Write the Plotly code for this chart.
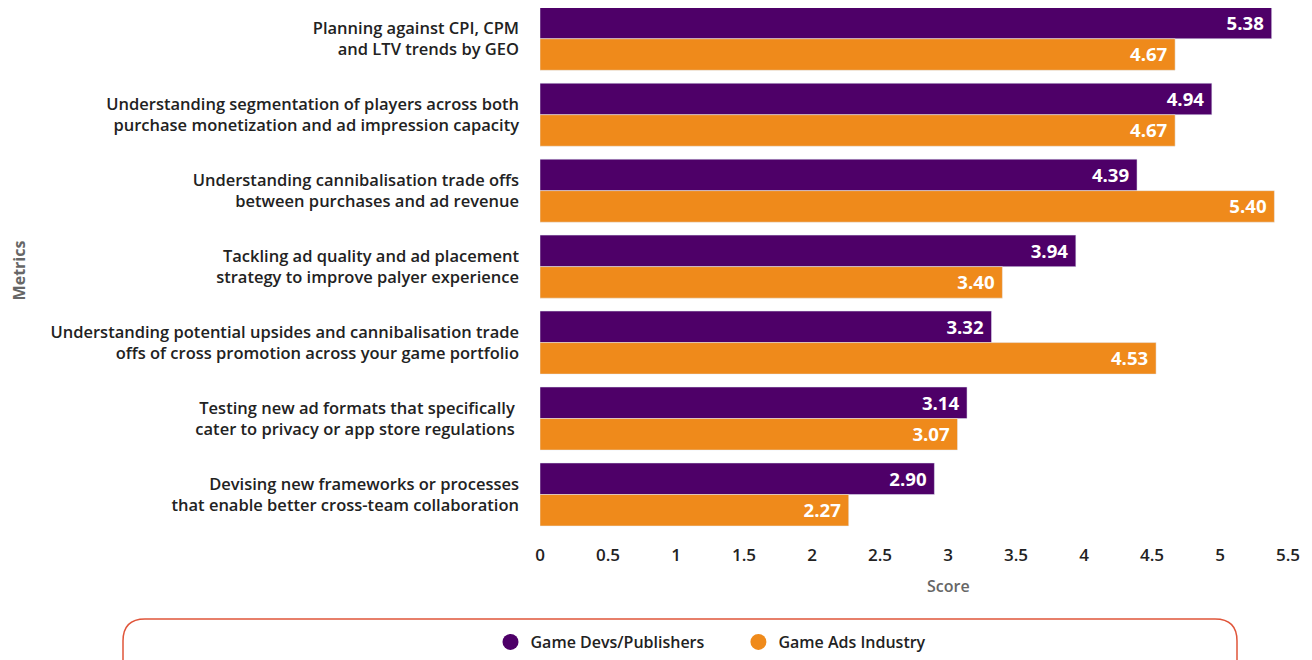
import plotly.graph_objects as go

# data
metrics = [
    "Planning against CPI, CPM<br>and LTV trends by GEO",
    "Understanding segmentation of players across both<br>purchase monetization and ad impression capacity",
    "Understanding cannibalisation trade offs<br>between purchases and ad revenue",
    "Tackling ad quality and ad placement<br>strategy to improve palyer experience",
    "Understanding potential upsides and cannibalisation trade<br>offs of cross promotion across your game portfolio",
    "Testing new ad formats that specifically\u00a0<br>cater to privacy or app store regulations\u00a0",
    "Devising new frameworks or processes<br>that enable better cross-team collaboration",
]
devs_scores = [5.38, 4.94, 4.39, 3.94, 3.32, 3.14, 2.90]
ads_scores = [4.67, 4.67, 5.40, 3.40, 4.53, 3.07, 2.27]
x_ticks = [0, 0.5, 1, 1.5, 2, 2.5, 3, 3.5, 4, 4.5, 5, 5.5]

PURPLE = "#4E0068"
ORANGE = "#EF8A1B"
FONT = "Open Sans"

# the page body adds an 8px margin, so the figure is a bit smaller
OFF = 8
W, H = 1312 - OFF, 660 - OFF
L, R, T, B = 532, 24, 0, 127

fig = go.Figure()
for name, vals, col in [("Game Devs/Publishers", devs_scores, PURPLE),
                        ("Game Ads Industry", ads_scores, ORANGE)]:
    fig.add_trace(go.Bar(
        y=metrics, x=vals, orientation="h", name=name,
        marker_color=col, text=[f"{v:.2f}\u00a0" for v in vals],
        textposition="inside", insidetextanchor="end",
        textfont=dict(family=FONT, size=19, color="white", weight=700),
        showlegend=False,
    ))

# legend entries drawn as circles
for name, col in [("Game Devs/Publishers" + "\u00a0" * 7, PURPLE), ("Game Ads Industry", ORANGE)]:
    fig.add_trace(go.Scatter(x=[None], y=[None], mode="markers", name=name,
                             marker=dict(symbol="circle", size=18, color=col)))

# rounded box around the legend, given in screen pixels and mapped to paper coords
pw, ph = W - L - R, H - T - B
def px(x):
    return (x - OFF - L) / pw
def py(y):
    return (H - B - (y - OFF)) / ph
x0, x1, y0, y1, r = 123, 1237, 619, 700, 22
path = (f"M {px(x0 + r)},{py(y0)} L {px(x1 - r)},{py(y0)} "
        f"Q {px(x1)},{py(y0)} {px(x1)},{py(y0 + r)} L {px(x1)},{py(y1 - r)} "
        f"Q {px(x1)},{py(y1)} {px(x1 - r)},{py(y1)} L {px(x0 + r)},{py(y1)} "
        f"Q {px(x0)},{py(y1)} {px(x0)},{py(y1 - r)} L {px(x0)},{py(y0 + r)} "
        f"Q {px(x0)},{py(y0)} {px(x0 + r)},{py(y0)} Z")
fig.add_shape(type="path", path=path, xref="paper", yref="paper",
              line=dict(color="#E0553A", width=1.5))

# x axis title sits under the 3 tick in the original
fig.add_annotation(x=3, xref="x", y=py(586), yref="paper", text="Score", showarrow=False,
                   yanchor="middle", font=dict(family=FONT, size=16, color="#666666", weight=600))

fig.update_layout(
    width=W, height=H,
    margin=dict(l=L, r=R, t=T, b=B),
    barmode="group", bargap=0.17, bargroupgap=0,
    plot_bgcolor="white", paper_bgcolor="white",
    font=dict(family=FONT, color="#222222"),
    legend=dict(orientation="h", x=px(711), xanchor="center", y=py(642), yanchor="middle",
                font=dict(family=FONT, size=16, color="#222222", weight=600),
                itemwidth=30, bgcolor="rgba(0,0,0,0)"),
)
fig.update_xaxes(
    range=[0, 5.5], tickvals=x_ticks, ticktext=[str(t) for t in x_ticks],
    showgrid=False, zeroline=False, showline=False, ticklabelstandoff=10,
    tickfont=dict(family=FONT, size=17, color="#222222", weight=600),
)
fig.update_yaxes(
    range=[6.507, -0.405], showgrid=False, zeroline=False, showline=False,
    ticklabelstandoff=20,
    tickfont=dict(family=FONT, size=16.5, color="#222222", weight=600),
    title=dict(text="Metrics", font=dict(family=FONT, size=16, color="#666666", weight=700), standoff=22),
)

fig.write_html("out.html")
